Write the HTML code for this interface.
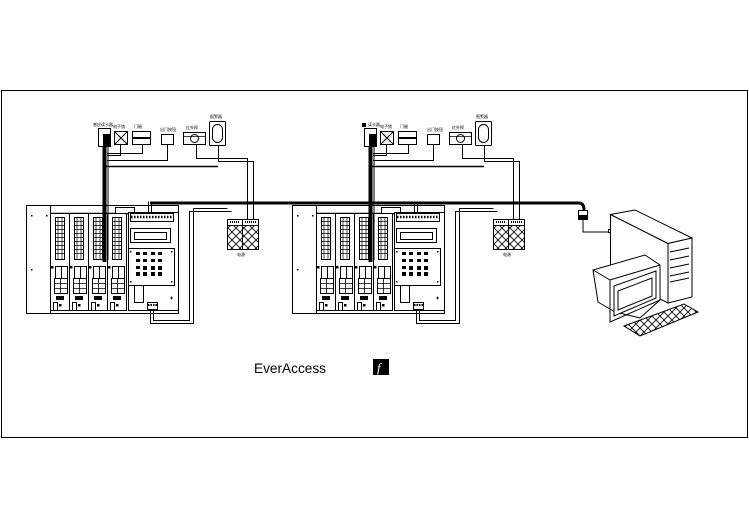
<!DOCTYPE html>
<html><head><meta charset="utf-8"><style>
html,body{margin:0;padding:0;background:#fff;}
svg{display:block;}
</style></head><body>
<svg width="749" height="530" viewBox="0 0 749 530" xmlns="http://www.w3.org/2000/svg" font-family="Liberation Sans, Noto Sans CJK SC, sans-serif">
<defs>
<pattern id="xh" width="8" height="8" patternUnits="userSpaceOnUse">
<path d="M0 0L8 8M8 0L0 8" stroke="#000" stroke-width="0.8"/>
</pattern>
<g id="mod">
<rect x="0" y="0" width="19" height="97" fill="#fff" stroke="#000" stroke-width="1"/>
<rect x="5" y="4" width="9" height="42" fill="#fff" stroke="#000" stroke-width="1"/>
<path d="M7.5 4V46M11.5 4V46M5 8H14M5 12H14M5 16H14M5 20H14M5 24H14M5 28H14M5 32H14M5 36H14M5 40H14" stroke="#000" stroke-width="0.7"/>
<rect x="5" y="53" width="12" height="12" fill="#fff" stroke="#000"/>
<path d="M11 53V65" stroke="#000"/>
<rect x="4" y="65" width="13" height="15" fill="#fff" stroke="#000"/>
<path d="M4 70H17M4 75H17M10 65V80" stroke="#000" stroke-width="0.8"/>
<rect x="6" y="83" width="7" height="3" fill="#000"/>
<rect x="3" y="89" width="4" height="8" fill="#fff" stroke="#000"/>
<rect x="9" y="91" width="1.5" height="1.5" fill="#000"/>
<rect x="1" y="53" width="1.5" height="1.5" fill="#000"/>
</g>
<g id="panel" fill="none" stroke="#000" stroke-width="1">
<!-- outer -->
<rect x="26.5" y="205.5" width="152" height="108" fill="#fff"/>
<path d="M50.5 205.5V313.5"/>
<rect x="31" y="215" width="1.5" height="1.5" fill="#000" stroke="none"/>
<rect x="46" y="215" width="1.5" height="1.5" fill="#000" stroke="none"/>
<rect x="31" y="269" width="1.5" height="1.5" fill="#000" stroke="none"/>
<path d="M50.5 213.5H128.5" stroke-width="1.5"/>
<use href="#mod" x="50.5" y="213.5"/>
<use href="#mod" x="69.5" y="213.5"/>
<use href="#mod" x="88.5" y="213.5"/>
<use href="#mod" x="107.5" y="213.5"/>
<rect x="115.5" y="207.5" width="19" height="6" fill="#fff"/>
<!-- controller -->
<rect x="128.5" y="212.5" width="50" height="98" fill="#fff"/>
<rect x="130.5" y="213.5" width="43" height="8" fill="#fff"/>
<path d="M131 217H173" stroke-dasharray="1.5 1.5" stroke-width="2.5"/>
<rect x="130.5" y="228.5" width="40" height="14"/>
<rect x="134.5" y="232.5" width="32" height="7"/>
<rect x="128.5" y="248.5" width="46" height="37"/>
<g fill="#000" stroke="none">
<rect x="136" y="252" width="4" height="3"/><rect x="143" y="252" width="4" height="3"/><rect x="151" y="252" width="4" height="3"/><rect x="158" y="252" width="4" height="3"/>
<rect x="136" y="259" width="4" height="3"/><rect x="143" y="259" width="4" height="3"/><rect x="151" y="259" width="4" height="3"/><rect x="158" y="259" width="4" height="3"/>
<rect x="136" y="266" width="4" height="3"/><rect x="143" y="266" width="4" height="4"/><rect x="151" y="266" width="4" height="4"/><rect x="158" y="266" width="4" height="4"/>
<rect x="136" y="272" width="4" height="4"/><rect x="143" y="272" width="4" height="4"/><rect x="151" y="272" width="4" height="4"/><rect x="158" y="272" width="4" height="4"/>
<rect x="130" y="251" width="1.5" height="1.5"/><rect x="171" y="251" width="1.5" height="1.5"/><rect x="130" y="281" width="1.5" height="1.5"/><rect x="171" y="281" width="1.5" height="1.5"/>
</g>
<rect x="134.5" y="285.5" width="9" height="17" fill="#fff"/>
<rect x="147.5" y="302.5" width="10" height="7" fill="#fff"/>
<path d="M148 305H157" stroke-width="2" stroke-dasharray="1.5 1"/>
<path d="M170 298H173M171.5 296.5V299.5" stroke-width="0.8"/>
<!-- bottom loop -->
<path d="M150.5 309.5V323.5H193.5V208.5H227.5M153.5 309.5V320.5H189.5V211.5H231.5"/>
<!-- up lines from terminal -->
<path d="M148.5 213.5V201.5M151.5 213.5V203.5"/>
<!-- power box -->
<rect x="227.5" y="219.5" width="31" height="30" fill="#fff"/>
<rect x="228" y="226" width="14.5" height="23" fill="url(#xh)" stroke="none"/>
<rect x="243" y="226" width="15" height="23" fill="url(#xh)" stroke="none"/>
<path d="M227.5 225.5H258.5M242.5 219.5V249.5"/>
<path d="M230 222H240M245 222H256" stroke-width="2" stroke-dasharray="1 1"/>
<!-- devices -->
<rect x="98.5" y="128.5" width="12" height="18" fill="#fff"/>
<rect x="103" y="134" width="7" height="12" fill="#000" stroke="none"/>
<rect x="114.5" y="131.5" width="13" height="13" fill="#fff"/>
<path d="M114.5 131.5L127.5 144.5M127.5 131.5L114.5 144.5"/>
<rect x="132.5" y="131.5" width="18" height="13" fill="#fff"/>
<path d="M132.5 138H150.5" stroke-width="2"/>
<rect x="161.5" y="134.5" width="12" height="10" fill="#fff"/>
<rect x="183.5" y="132.5" width="22" height="12" fill="#fff"/>
<circle cx="194.5" cy="138.5" r="4" fill="#fff"/>
<path d="M183.5 136.5H205.5" stroke-width="0.8"/>
<rect x="209.5" y="121.5" width="16" height="24" rx="1" fill="#fff"/>
<rect x="212.5" y="124.5" width="10" height="18" rx="5"/>
<!-- device wires -->
<path d="M120.5 144.5V155.5H107M142.5 144.5V153.5H107M167.5 144.5V160.5H107M196.5 144.5V158.5H247.5V219.5M218.5 145.5V161.5H253.5V219.5"/>
<path d="M106 166.5H218" stroke-width="1.6"/>
<path d="M106 146V171" stroke-width="1"/>
<!-- thick vertical cable -->
<path d="M104.5 146V262" stroke-width="4"/>
<path d="M108 146V260" stroke-width="1"/>
</g>
</defs>
<rect x="1.5" y="90.5" width="746" height="347" fill="none" stroke="#000" stroke-width="1"/>
<!-- thick bus -->
<path d="M150 203H580" stroke="#000" stroke-width="3" fill="none"/>
<path d="M580 203Q584 204 584 210" stroke="#000" stroke-width="3" fill="none"/>
<use href="#panel"/>
<use href="#panel" x="266"/>
<rect x="362" y="123" width="4" height="4" fill="#000"/>
<!-- labels -->
<g font-size="4" fill="#000">
<text x="93" y="126">感应读卡器</text><text x="113" y="128">电子锁</text><text x="134" y="128">门磁</text>
<text x="160" y="131">出门按钮</text><text x="186" y="129">红外探</text><text x="210" y="118">报警器</text>
<text x="237" y="256">电源</text>
<text x="368" y="126">读卡器</text><text x="380" y="128">电子锁</text><text x="400" y="128">门磁</text>
<text x="427" y="131">出门按钮</text><text x="452" y="129">红外探</text><text x="476" y="118">报警器</text>
<text x="503" y="256">电源</text>
</g>
<!-- PC -->
<g fill="#fff" stroke="#000" stroke-width="1">
<rect x="578.5" y="210.5" width="9" height="9"/>
<rect x="579.5" y="215.5" width="7" height="3" fill="#000"/>
<path d="M583 220V232H609" fill="none"/>
<rect x="608.5" y="229.5" width="3" height="3"/>
<path d="M610.5 214.5L668 243.5L668 303L610.5 274Z"/>
<path d="M610.5 214.5L635 210L692 238L668 243.5Z"/>
<path d="M668 243.5L692 238L692 297L668 303Z"/>
<path d="M670 252L689 248M670 260L689 256M670 268L689 264M670 276L689 272M670 282L689 278" fill="none"/>
<path d="M593 270L645 255L660 265L660 300L640 318L615 312L598 302Z"/>
<path d="M593 270L610 280L660 265" fill="none"/>
<path d="M610 280L610 322L660 300" fill="none"/>
<path d="M614 286L656 271L656 298L614 316Z"/>
<path d="M618 291L652 278L652 296L618 310Z"/>
<path d="M624 326L684 304L698 312L640 336Z" fill="url(#xh)"/>
</g>
<text x="254" y="373" font-size="14" fill="#000" textLength="72" lengthAdjust="spacingAndGlyphs">EverAccess</text>
<rect x="373" y="359" width="16" height="16" fill="#000"/>
<text x="377" y="372" font-size="13" fill="#fff" font-style="italic" font-family="Liberation Serif, serif">f</text>
</svg>
</body></html>
